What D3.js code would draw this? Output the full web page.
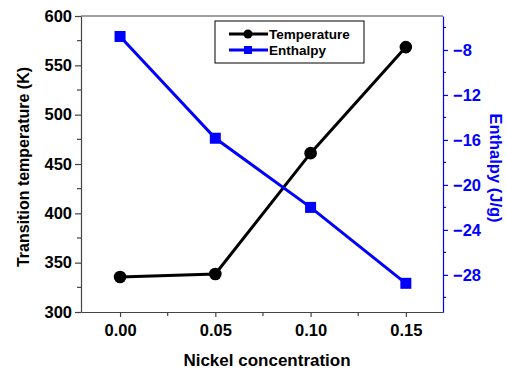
<!DOCTYPE html>
<head>
  <meta charset="utf-8">
  <script src="https://d3js.org/d3.v7.min.js"></script>
  <style>
    body { margin:0; background:#fff; }
    text { font-family: "Liberation Sans", Arial, sans-serif; font-weight: bold; }
  </style>
</head>
<body>
<script>

/* Data */
var nickel = [0.00, 0.05, 0.10, 0.15];
var temperature = [335.5, 338.5, 461, 568.5];
var enthalpy = [-6.8, -15.85, -22.0, -28.75];
var xTicks = [0.00, 0.05, 0.10, 0.15];
var tempTicks = [300, 350, 400, 450, 500, 550, 600];
var enthTicks = [-8, -12, -16, -20, -24, -28];

/* Set up */
var width = 506,
    height = 373,
    margin = { top: 16, right: 63, bottom: 61, left: 81 };

var svg = d3.select('body')
  .append('svg')
    .attr('width', width)
    .attr('height', height);

var x = d3.scaleLinear().domain([-0.0205, 0.1695]).range([margin.left, width - margin.right]);
var yL = d3.scaleLinear().domain([300, 600]).range([height - margin.bottom, margin.top]);
var yR = d3.scaleLinear().domain([-31.3, -4.98]).range([height - margin.bottom, margin.top]);

var blue = '#0000ff';

// frame top line
svg.append('line')
  .attr('x1', margin.left).attr('x2', width - margin.right)
  .attr('y1', margin.top).attr('y2', margin.top)
  .attr('stroke', '#444').attr('stroke-width', 1.2);

// minor ticks
function minor(g, scale, vals, dir, len, color) {
  g.selectAll(null).data(vals).enter().append('line')
    .attr(dir === 'x' ? 'x1' : 'y1', function(d) { return scale(d); })
    .attr(dir === 'x' ? 'x2' : 'y2', function(d) { return scale(d); })
    .attr(dir === 'x' ? 'y1' : 'x1', 0)
    .attr(dir === 'x' ? 'y2' : 'x2', len)
    .attr('stroke', color).attr('stroke-width', 1.2);
}

// bottom axis
var gx = svg.append('g').attr('transform', 'translate(0,' + (height - margin.bottom) + ')');
gx.call(d3.axisBottom(x).tickValues(xTicks).tickFormat(d3.format('.2f')).tickSize(5).tickSizeOuter(0).tickPadding(7));
minor(gx, x, [0.025, 0.075, 0.125], 'x', 4, '#444');

// left axis
var gl = svg.append('g').attr('transform', 'translate(' + margin.left + ',0)');
gl.call(d3.axisLeft(yL).tickValues(tempTicks).tickSize(6).tickSizeOuter(0).tickPadding(3));
minor(gl, yL, [325, 375, 425, 475, 525, 575], 'y', -4, '#444');

// right axis
var gr = svg.append('g').attr('transform', 'translate(' + (width - margin.right) + ',0)');
gr.call(d3.axisRight(yR).tickValues(enthTicks).tickSize(5).tickSizeOuter(0).tickPadding(5));
minor(gr, yR, [-6, -10, -14, -18, -22, -26, -30], 'y', 3, blue);

[gx, gl].forEach(function(g) {
  g.select('.domain').attr('stroke', '#444').attr('stroke-width', 1.2);
  g.selectAll('.tick line').attr('stroke', '#444').attr('stroke-width', 1.2);
  g.selectAll('.tick text').attr('fill', '#000').style('font-size', '16.5px');
});
gr.select('.domain').attr('stroke', blue).attr('stroke-width', 1.2);
gr.selectAll('.tick line').attr('stroke', blue).attr('stroke-width', 1.2);
gr.selectAll('.tick text').attr('fill', blue).style('font-size', '16.5px');

// axis titles
svg.append('text')
  .attr('x', 267).attr('y', 366)
  .attr('text-anchor', 'middle')
  .style('font-size', '17px')
  .text('Nickel concentration');

svg.append('text')
  .attr('transform', 'translate(29,167) rotate(-90)')
  .attr('text-anchor', 'middle')
  .style('font-size', '16px')
  .text('Transition temperature (K)');

svg.append('text')
  .attr('transform', 'translate(490,168) rotate(90)')
  .attr('text-anchor', 'middle')
  .attr('fill', blue)
  .style('font-size', '16.5px')
  .text('Enthalpy (J/g)');

// series
var lineT = d3.line().x(function(d, i) { return x(nickel[i]); }).y(function(d) { return yL(d); });
var lineE = d3.line().x(function(d, i) { return x(nickel[i]); }).y(function(d) { return yR(d); });

svg.append('path').datum(temperature)
  .attr('d', lineT).attr('fill', 'none').attr('stroke', '#000').attr('stroke-width', 3);
svg.selectAll('.ptT').data(temperature).enter().append('circle')
  .attr('cx', function(d, i) { return x(nickel[i]); })
  .attr('cy', function(d) { return yL(d); })
  .attr('r', 6.3).attr('fill', '#000');

svg.append('path').datum(enthalpy)
  .attr('d', lineE).attr('fill', 'none').attr('stroke', blue).attr('stroke-width', 3);
svg.selectAll('.ptE').data(enthalpy).enter().append('rect')
  .attr('x', function(d, i) { return x(nickel[i]) - 5.5; })
  .attr('y', function(d) { return yR(d) - 5.5; })
  .attr('width', 11).attr('height', 11).attr('fill', blue);

// legend
var lg = svg.append('g').attr('transform', 'translate(215,21)');
lg.append('rect').attr('width', 149).attr('height', 42)
  .attr('fill', '#fff').attr('stroke', '#000').attr('stroke-width', 1);
var items = [{ name: 'Temperature', color: '#000', shape: 'circle' },
             { name: 'Enthalpy', color: blue, shape: 'square' }];
items.forEach(function(it, i) {
  var yy = 13 + i * 16;
  lg.append('line').attr('x1', 14).attr('x2', 53).attr('y1', yy).attr('y2', yy)
    .attr('stroke', it.color).attr('stroke-width', 3);
  if (it.shape === 'circle') {
    lg.append('circle').attr('cx', 33).attr('cy', yy).attr('r', 4.5).attr('fill', it.color);
  } else {
    lg.append('rect').attr('x', 29).attr('y', yy - 4).attr('width', 8).attr('height', 8).attr('fill', it.color);
  }
  lg.append('text').attr('x', 54).attr('y', yy + 5)
    .style('font-size', '13.5px').text(it.name);
});

</script>
</body>
